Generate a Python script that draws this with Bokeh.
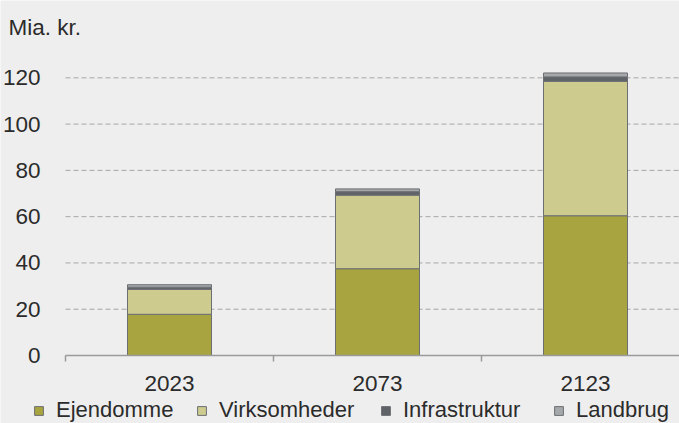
from bokeh.plotting import figure
from bokeh.models import (ColumnDataSource, Range1d, FixedTicker, Legend, LegendItem, Label)
from bokeh.embed import file_html
from bokeh.resources import INLINE

categories = ["2023", "2073", "2123"]
series = ["Ejendomme", "Virksomheder", "Infrastruktur", "Landbrug"]
ejendomme = [17.8, 37.5, 60.4]
virksomheder = [10.8, 31.8, 58.1]
infrastruktur = [0.9, 1.5, 1.9]
landbrug = [1.1, 1.2, 1.7]
y_ticks = [0, 20, 40, 60, 80, 100, 120]
unit_label = "Mia. kr."
colors = ["#a8a43f", "#cdcb8e", "#5f6267", "#a5a8ab"]
legend_x = [33, 196, 380, 553]   # pixel positions of legend entries

FONT = "Liberation Sans"
FS = "22.5px"
LFS = "22px"
TXT = "#2b2b2b"
BG = "#eeeeee"

W, H = 679, 423
X0, Y0 = 65, 355           # pixel position of data origin inside the figure
PX_CAT, PX_Y = 208, 2.314  # pixels per category, pixels per unit

xs = [i + 0.5 for i in range(len(categories))]
src = ColumnDataSource(dict(x=xs, Ejendomme=ejendomme, Virksomheder=virksomheder,
                            Infrastruktur=infrastruktur, Landbrug=landbrug))

x_end = (W - X0) / PX_CAT
p = figure(width=W, height=H, output_backend="svg", toolbar_location=None,
           x_range=Range1d(-X0 / PX_CAT, x_end),
           y_range=Range1d(-(H - Y0) / PX_Y, Y0 / PX_Y),
           min_border=0, background_fill_color=BG, border_fill_color=BG,
           outline_line_color=None)

# dashed horizontal grid lines (only over the plot area)
gsrc = ColumnDataSource(dict(y=y_ticks[1:], x0=[0] * (len(y_ticks) - 1),
                             x1=[x_end] * (len(y_ticks) - 1)))
p.segment(x0="x0", x1="x1", y0="y", y1="y", source=gsrc,
          line_color="#a6a6a6", line_dash="5 3", line_width=1)

rs = p.vbar_stack(series, x="x", width=84 / 208, source=src, color=colors,
                  line_color="#6c6f72", line_width=1)

p.xgrid.visible = False
p.ygrid.visible = False

# y axis
p.yaxis.fixed_location = 0
p.yaxis.ticker = FixedTicker(ticks=y_ticks)
p.yaxis.axis_line_color = None
p.yaxis.major_tick_line_color = None
p.yaxis.minor_tick_line_color = None
p.yaxis.major_label_standoff = 19
p.yaxis.major_label_text_font = FONT
p.yaxis.major_label_text_font_size = FS
p.yaxis.major_label_text_color = TXT

# x axis
p.xaxis.fixed_location = 0
p.xaxis.bounds = (0, x_end)
p.xaxis.ticker = FixedTicker(ticks=xs, minor_ticks=[0, 1, 2, 3])
p.xaxis.major_label_overrides = {x: c for x, c in zip(xs, categories)}
p.xaxis.major_tick_line_color = None
p.xaxis.minor_tick_in = 0
p.xaxis.minor_tick_out = 6
p.xaxis.minor_tick_line_color = "#9a9a9a"
p.xaxis.minor_tick_line_width = 1.5
p.xaxis.axis_line_color = "#9a9a9a"
p.xaxis.axis_line_width = 1.5
p.xaxis.major_label_standoff = 14
p.xaxis.major_label_text_font = FONT
p.xaxis.major_label_text_font_size = FS
p.xaxis.major_label_text_color = TXT

p.add_layout(Label(x=-(X0 - 8) / PX_CAT, y=(Y0 - 27) / PX_Y, text=unit_label,
                   text_font=FONT, text_font_size=FS, text_color=TXT,
                   text_align="left", text_baseline="middle"))

for s, r, lx in zip(series, rs, legend_x):
    lg = Legend(items=[LegendItem(label=s, renderers=[r])],
                orientation="horizontal", location=(lx, 0),
                glyph_width=11, glyph_height=11, label_standoff=12,
                label_text_font=FONT, label_text_font_size=LFS, label_text_color=TXT,
                background_fill_alpha=0, border_line_alpha=0, padding=0, margin=0)
    p.add_layout(lg, "center")

open("out.html", "w").write(file_html(p, INLINE))
